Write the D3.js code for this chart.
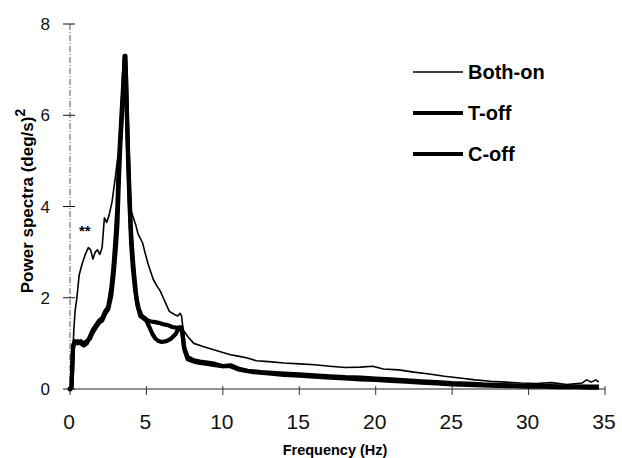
<!DOCTYPE html>
<html>
<head>
<meta charset="utf-8">
<script src="https://cdn.jsdelivr.net/npm/d3@7"></script>
<style>
  body { margin: 0; background: #fff; }
  svg { font-family: "Liberation Sans", Arial, sans-serif; }
</style>
</head>
<body>
<svg width="622" height="458"></svg>
<script>
// values: [frequency Hz, power (deg/s)^2]
var bothOn = [
  [0,0],[0.1,0.05],[0.2,0.9],[0.25,1.3],[0.33,1.7],[0.45,2.0],[0.6,2.5],[0.8,2.75],
  [1.0,2.95],[1.2,3.1],[1.35,3.05],[1.5,2.85],[1.65,3.0],[1.8,3.05],[1.95,2.95],[2.1,3.1],
  [2.25,3.75],[2.4,3.65],[2.55,3.8],[2.75,4.1],[2.95,4.6],[3.1,5.0],[3.2,5.2],[3.3,5.3],
  [3.4,5.9],[3.5,6.6],[3.6,7.3],[3.7,6.6],[3.8,5.4],[3.9,4.5],[4.0,3.9],
  [4.15,3.75],[4.3,3.6],[4.45,3.4],[4.6,3.3],[4.75,3.2],[4.9,3.0],[5.1,2.75],[5.3,2.55],
  [5.45,2.4],[5.7,2.25],[5.9,2.15],[6.1,2.0],[6.3,1.85],[6.5,1.7],[6.7,1.66],[6.9,1.62],
  [7.05,1.6],[7.2,1.66],[7.3,1.6],[7.4,1.3],[7.7,1.15],[8.1,1.0],[8.7,0.93],
  [9.4,0.86],[10.0,0.8],[10.5,0.75],[11.0,0.72],[11.6,0.68],[12.2,0.62],[13,0.6],
  [14,0.57],[15,0.55],[16,0.53],[17,0.5],[18,0.47],[19,0.48],[19.8,0.5],[20.5,0.44],
  [21.5,0.42],[22.5,0.37],[23.5,0.33],[24.5,0.28],[25.5,0.24],[26.5,0.2],[27.5,0.17],
  [28.5,0.15],[29.5,0.13],[30.5,0.12],[31.5,0.14],[32.5,0.1],[33.5,0.13],[33.8,0.2],
  [34.1,0.15],[34.4,0.2],[34.6,0.15]
];
var tOff = [
  [0,0],[0.1,0.05],[0.2,0.95],[0.3,1.05],[0.5,1.0],[0.7,1.05],[0.9,1.0],[1.1,1.05],
  [1.3,1.1],[1.5,1.25],[1.7,1.35],[1.9,1.45],[2.1,1.5],[2.3,1.65],[2.5,1.75],[2.7,2.05],
  [2.85,2.5],[3.0,3.1],[3.1,3.6],[3.2,4.6],[3.3,5.4],[3.4,6.0],[3.5,6.6],[3.57,7.3],
  [3.63,7.3],[3.7,6.4],[3.8,5.2],[3.9,4.2],[4.0,3.4],[4.1,2.9],[4.2,2.5],[4.35,2.0],
  [4.5,1.75],[4.7,1.6],[4.9,1.55],[5.1,1.5],[5.3,1.48],[5.5,1.47],[5.8,1.45],[6.1,1.42],
  [6.4,1.4],[6.7,1.36],[7.0,1.34],[7.2,1.35],[7.35,1.25],[7.45,0.92],[7.7,0.7],[8.1,0.63],
  [8.5,0.6],[9,0.58],[9.5,0.55],[10,0.5],[10.5,0.52],[11,0.45],[11.6,0.4],[12.5,0.37],
  [13,0.36],[14,0.34],[15,0.32],[16,0.3],[17,0.28],[18,0.26],[19,0.25],[20,0.23],
  [21,0.21],[22,0.19],[23,0.17],[24,0.15],[25,0.13],[26,0.12],[27,0.1],[28,0.09],
  [29,0.08],[30,0.07],[31,0.07],[32,0.06],[33,0.06],[34,0.05],[34.6,0.05]
];
var cOff = [
  [0,0],[0.1,0.05],[0.2,0.9],[0.3,1.0],[0.5,1.05],[0.7,1.0],[0.9,0.95],[1.1,1.0],
  [1.3,1.15],[1.5,1.3],[1.7,1.4],[1.9,1.5],[2.1,1.55],[2.3,1.7],[2.5,1.8],[2.7,2.2],
  [2.85,2.7],[3.0,3.4],[3.1,4.0],[3.2,5.0],[3.3,5.6],[3.4,6.2],[3.5,6.8],[3.58,7.25],
  [3.65,7.0],[3.72,6.0],[3.8,5.0],[3.9,4.0],[4.0,3.2],[4.1,2.7],[4.25,2.2],[4.4,1.85],
  [4.6,1.6],[4.8,1.55],[5.0,1.5],[5.2,1.35],[5.4,1.2],[5.6,1.1],[5.8,1.05],[6.0,1.03],
  [6.3,1.05],[6.6,1.1],[6.9,1.2],[7.1,1.32],[7.3,1.35],[7.4,1.1],[7.5,0.85],[7.7,0.65],
  [8.1,0.6],[8.5,0.57],[9,0.55],[9.5,0.52],[10,0.5],[10.5,0.5],[11,0.43],[12,0.37],
  [13,0.34],[14,0.31],[15,0.29],[16,0.27],[17,0.25],[18,0.23],[19,0.21],[20,0.2],
  [21,0.18],[22,0.16],[23,0.14],[24,0.12],[25,0.1],[26,0.09],[27,0.08],[28,0.07],
  [29,0.06],[30,0.05],[31,0.05],[32,0.04],[33,0.04],[34,0.03],[34.6,0.03]
];

var seriesNames = ["Both-on", "T-off", "C-off"];
var seriesWidths = [1.6, 4.2, 4.2];
var xTicks = [0, 5, 10, 15, 20, 25, 30, 35];
var yTicks = [0, 2, 4, 6, 8];

function draw() {
  var svg = d3.select("svg");
  var left = 70, right = 605, plotTop = 24, bottom = 389;

  var x = d3.scaleLinear().domain([0, 35]).range([left, right]);
  var y = d3.scaleLinear().domain([0, 8]).range([bottom, plotTop]);

  // y axis: dashed line with ticks crossing it
  svg.append("line")
    .attr("x1", left).attr("x2", left).attr("y1", y(8)).attr("y2", bottom)
    .attr("stroke", "#555").attr("stroke-width", 1).attr("stroke-dasharray", "6,2,1,2");

  svg.selectAll(".ytick").data(yTicks).enter().append("line")
    .attr("x1", left - 7).attr("x2", left + 5)
    .attr("y1", d => y(d)).attr("y2", d => y(d))
    .attr("stroke", "#111").attr("stroke-width", 1);

  svg.selectAll(".ylab").data(yTicks).enter().append("text")
    .attr("x", 50).attr("y", d => y(d) + 6)
    .attr("text-anchor", "end").attr("font-size", 17).attr("fill", "#111")
    .text(d => d);

  // x axis
  svg.append("line")
    .attr("x1", left).attr("x2", right).attr("y1", bottom).attr("y2", bottom)
    .attr("stroke", "#222").attr("stroke-width", 1);

  svg.selectAll(".xtick").data(xTicks).enter().append("line")
    .attr("x1", d => x(d)).attr("x2", d => x(d))
    .attr("y1", bottom - 3).attr("y2", bottom + 6)
    .attr("stroke", "#333").attr("stroke-width", 1);

  svg.selectAll(".xlab").data(xTicks).enter().append("text")
    .attr("x", d => x(d) - 1).attr("y", 429)
    .attr("text-anchor", "middle").attr("font-size", 21).attr("fill", "#111")
    .text(d => d);

  svg.append("text")
    .attr("x", 335).attr("y", 455)
    .attr("text-anchor", "middle").attr("font-size", 14.5).attr("font-weight", "bold")
    .text("Frequency (Hz)");

  var yt = svg.append("text")
    .attr("transform", "translate(33,201) rotate(-90)")
    .attr("text-anchor", "middle").attr("font-size", 17).attr("font-weight", "bold");
  yt.append("tspan").text("Power spectra (deg/s)");
  yt.append("tspan").attr("dy", -8).attr("font-size", 14).text("2");

  // lines, thick ones first so the thin one stays visible
  var line = d3.line().x(d => x(d[0])).y(d => y(d[1]));
  var drawOrder = [cOff, tOff, bothOn];
  var drawWidths = [seriesWidths[2], seriesWidths[1], seriesWidths[0]];
  svg.selectAll(".series").data(drawOrder).enter().append("path")
    .attr("d", line)
    .attr("fill", "none").attr("stroke", "#000")
    .attr("stroke-width", (d, i) => drawWidths[i])
    .attr("stroke-linejoin", "round");

  svg.append("circle").attr("cx", x(0)).attr("cy", y(0)).attr("r", 2.5).attr("fill", "#000");

  svg.append("text")
    .attr("x", 79).attr("y", 236)
    .attr("font-size", 15).attr("font-weight", "bold")
    .text("**");

  // legend
  var legY = [72, 113, 154];
  var leg = svg.selectAll(".leg").data(seriesNames).enter().append("g")
    .attr("transform", (d, i) => "translate(413," + legY[i] + ")");
  leg.append("line")
    .attr("x1", 0).attr("x2", 50).attr("y1", 0).attr("y2", 0)
    .attr("stroke", "#000").attr("stroke-width", (d, i) => seriesWidths[i]);
  leg.append("text")
    .attr("x", 55).attr("y", 7)
    .attr("font-size", 20).attr("font-weight", "bold")
    .text(d => d);
}

draw();
</script>
</body>
</html>
